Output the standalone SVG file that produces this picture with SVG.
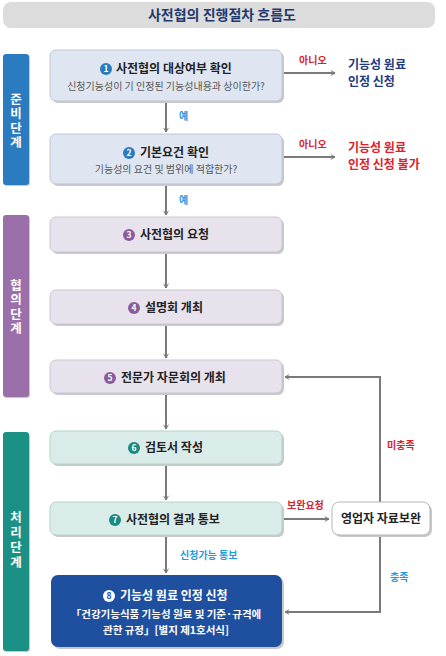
<svg xmlns="http://www.w3.org/2000/svg" width="446" height="656" viewBox="0 0 446 656">
<defs>
<style>
text{font-family:"Noto Sans CJK KR","Noto Sans",sans-serif;}
.t{font-size:12px;font-weight:bold;fill:#222;}
.s{font-size:10px;fill:#555;text-anchor:middle;}
.st{font-size:12.5px;font-weight:bold;fill:#fff;writing-mode:tb;letter-spacing:1.8px;}
.lab{font-size:10px;font-weight:bold;}
.red{fill:#d8202f;}
.cy{fill:#1d9be0;}
.num{font-size:8.5px;font-weight:bold;fill:#fff;text-anchor:middle;}
.sh{fill:#c9c9c9;}
.ln{stroke:#7a7a7a;stroke-width:2;fill:none;}
.out{font-size:12px;font-weight:bold;}
</style>
<marker id="ah" viewBox="0 0 10 10" refX="8" refY="5" markerWidth="6" markerHeight="6" markerUnits="userSpaceOnUse" orient="auto">
<path d="M1,1 L8,5 L1,9" fill="none" stroke="#7a7a7a" stroke-width="1.6"/>
</marker>
</defs>
<rect width="446" height="656" fill="#fff"/>
<g id="title">
<rect x="3" y="2" width="432" height="26" rx="8" fill="#dcdcdc"/>
<text x="222" y="20" style="font-size:14px;font-weight:bold;fill:#1f3a6e;text-anchor:middle">사전협의 진행절차 흐름도</text>
</g>
<g id="stage1">
<rect x="4" y="55" width="26" height="131" rx="3" class="sh"/>
<rect x="3" y="54" width="26" height="131" rx="3" fill="#2a7bbf"/>
<text class="st" x="16" y="93">준비단계</text>
</g>
<g id="stage2">
<rect x="4" y="216" width="26" height="182" rx="3" class="sh"/>
<rect x="3" y="215" width="26" height="182" rx="3" fill="#9b6fa9"/>
<text class="st" x="16" y="279">협의단계</text>
</g>
<g id="stage3">
<rect x="4" y="433" width="26" height="219" rx="3" class="sh"/>
<rect x="3" y="432" width="26" height="219" rx="3" fill="#1a9184"/>
<text class="st" x="16" y="511" style="letter-spacing:2.5px">처리단계</text>
</g>
<g id="connectors">
<line class="ln" x1="166" y1="101" x2="166" y2="132" marker-end="url(#ah)"/>
<line class="ln" x1="166" y1="184" x2="166" y2="215" marker-end="url(#ah)"/>
<line class="ln" x1="166" y1="252" x2="166" y2="288" marker-end="url(#ah)"/>
<line class="ln" x1="166" y1="324" x2="166" y2="358" marker-end="url(#ah)"/>
<line class="ln" x1="166" y1="393" x2="166" y2="429" marker-end="url(#ah)"/>
<line class="ln" x1="166" y1="464" x2="166" y2="500" marker-end="url(#ah)"/>
<line class="ln" x1="166" y1="535" x2="166" y2="573" marker-end="url(#ah)"/>
<line class="ln" x1="282" y1="73" x2="335" y2="73" marker-end="url(#ah)"/>
<line class="ln" x1="282" y1="157" x2="335" y2="157" marker-end="url(#ah)"/>
<line class="ln" x1="282" y1="519" x2="329" y2="519" marker-end="url(#ah)"/>
<polyline class="ln" points="380,502 380,377 285,377" marker-end="url(#ah)"/>
<polyline class="ln" points="380,535 380,612 285,612" marker-end="url(#ah)"/>
<text class="lab cy" x="179" y="120">예</text>
<text class="lab cy" x="179" y="204">예</text>
<text class="lab red" x="299" y="64">아니오</text>
<text class="lab red" x="299" y="148">아니오</text>
<text class="lab red" x="287" y="509">보완요청</text>
<text class="lab red" x="387" y="449">미충족</text>
<text class="lab cy" x="390" y="581">충족</text>
<text class="lab cy" x="180" y="559">신청가능 통보</text>
</g>
<g id="out1">
<text class="out" x="348" y="69" style="fill:#1f3a80">기능성 원료</text>
<text class="out" x="348" y="86" style="fill:#1f3a80">인정 신청</text>
</g>
<g id="out2">
<text class="out" x="348" y="152" style="fill:#e0202c">기능성 원료</text>
<text class="out" x="348" y="169" style="fill:#e0202c">인정 신청 불가</text>
</g>
<g id="n1">
<rect x="52" y="52" width="232" height="51" rx="6" class="sh"/>
<rect x="50" y="50" width="232" height="51" rx="6" fill="#dfe6f2" stroke="#bcc6d8"/>
<circle cx="106" cy="69" r="6" fill="#2a7bbf"/><text class="num" x="106" y="72">1</text>
<text class="t" x="116" y="73">사전협의 대상여부 확인</text>
<text class="s" x="166" y="90">신청기능성이 기 인정된 기능성내용과 상이한가?</text>
</g>
<g id="n2">
<rect x="52" y="136" width="232" height="50" rx="6" class="sh"/>
<rect x="50" y="134" width="232" height="50" rx="6" fill="#dfe6f2" stroke="#bcc6d8"/>
<circle cx="129" cy="153" r="6" fill="#2a7bbf"/><text class="num" x="129" y="156">2</text>
<text class="t" x="140" y="157">기본요건 확인</text>
<text class="s" x="166" y="173">기능성의 요건 및 범위에 적합한가?</text>
</g>
<g id="n3">
<rect x="52" y="219" width="232" height="35" rx="6" class="sh"/>
<rect x="50" y="217" width="232" height="35" rx="6" fill="#e8e2ed" stroke="#cdc3d6"/>
<circle cx="129" cy="235" r="6" fill="#8a5c9c"/><text class="num" x="129" y="238">3</text>
<text class="t" x="140" y="239">사전협의 요청</text>
</g>
<g id="n4">
<rect x="52" y="292" width="232" height="34" rx="6" class="sh"/>
<rect x="50" y="290" width="232" height="34" rx="6" fill="#e8e2ed" stroke="#cdc3d6"/>
<circle cx="134" cy="308" r="6" fill="#8a5c9c"/><text class="num" x="134" y="311">4</text>
<text class="t" x="145" y="312">설명회 개최</text>
</g>
<g id="n5">
<rect x="52" y="362" width="232" height="33" rx="6" class="sh"/>
<rect x="50" y="360" width="232" height="33" rx="6" fill="#e8e2ed" stroke="#cdc3d6"/>
<circle cx="110" cy="378" r="6" fill="#8a5c9c"/><text class="num" x="110" y="381">5</text>
<text class="t" x="121" y="382">전문가 자문회의 개최</text>
</g>
<g id="n6">
<rect x="52" y="433" width="232" height="33" rx="6" class="sh"/>
<rect x="50" y="431" width="232" height="33" rx="6" fill="#d9ece9" stroke="#b7d3ce"/>
<circle cx="134" cy="448" r="6" fill="#1a8a7e"/><text class="num" x="134" y="451">6</text>
<text class="t" x="145" y="452">검토서 작성</text>
</g>
<g id="n7">
<rect x="52" y="504" width="232" height="33" rx="6" class="sh"/>
<rect x="50" y="502" width="232" height="33" rx="6" fill="#d9ece9" stroke="#b7d3ce"/>
<circle cx="115" cy="520" r="6" fill="#1a8a7e"/><text class="num" x="115" y="523">7</text>
<text class="t" x="126" y="524">사전협의 결과 통보</text>
</g>
<g id="n8">
<rect x="53" y="577" width="231" height="72" rx="7" class="sh"/>
<rect x="51" y="575" width="231" height="72" rx="7" fill="#1f4f9f"/>
<circle cx="109" cy="596" r="6" fill="#fff"/><text class="num" x="109" y="599" style="fill:#1f4f9f">8</text>
<text class="t" x="120" y="600" style="fill:#fff">기능성 원료 인정 신청</text>
<text x="166" y="618" style="font-size:10.5px;font-weight:bold;fill:#fff;text-anchor:middle">「건강기능식품 기능성 원료 및 기준·규격에</text>
<text x="166" y="634" style="font-size:10.5px;font-weight:bold;fill:#fff;text-anchor:middle">관한 규정」[별지 제1호서식]</text>
</g>
<g id="n9">
<rect x="334" y="504" width="98" height="33" rx="7" class="sh"/>
<rect x="332" y="502" width="98" height="33" rx="7" fill="#fff" stroke="#b5b5b5"/>
<text x="381" y="523" style="font-size:12px;font-weight:bold;fill:#222;text-anchor:middle">영업자 자료보완</text>
</g>
</svg>
